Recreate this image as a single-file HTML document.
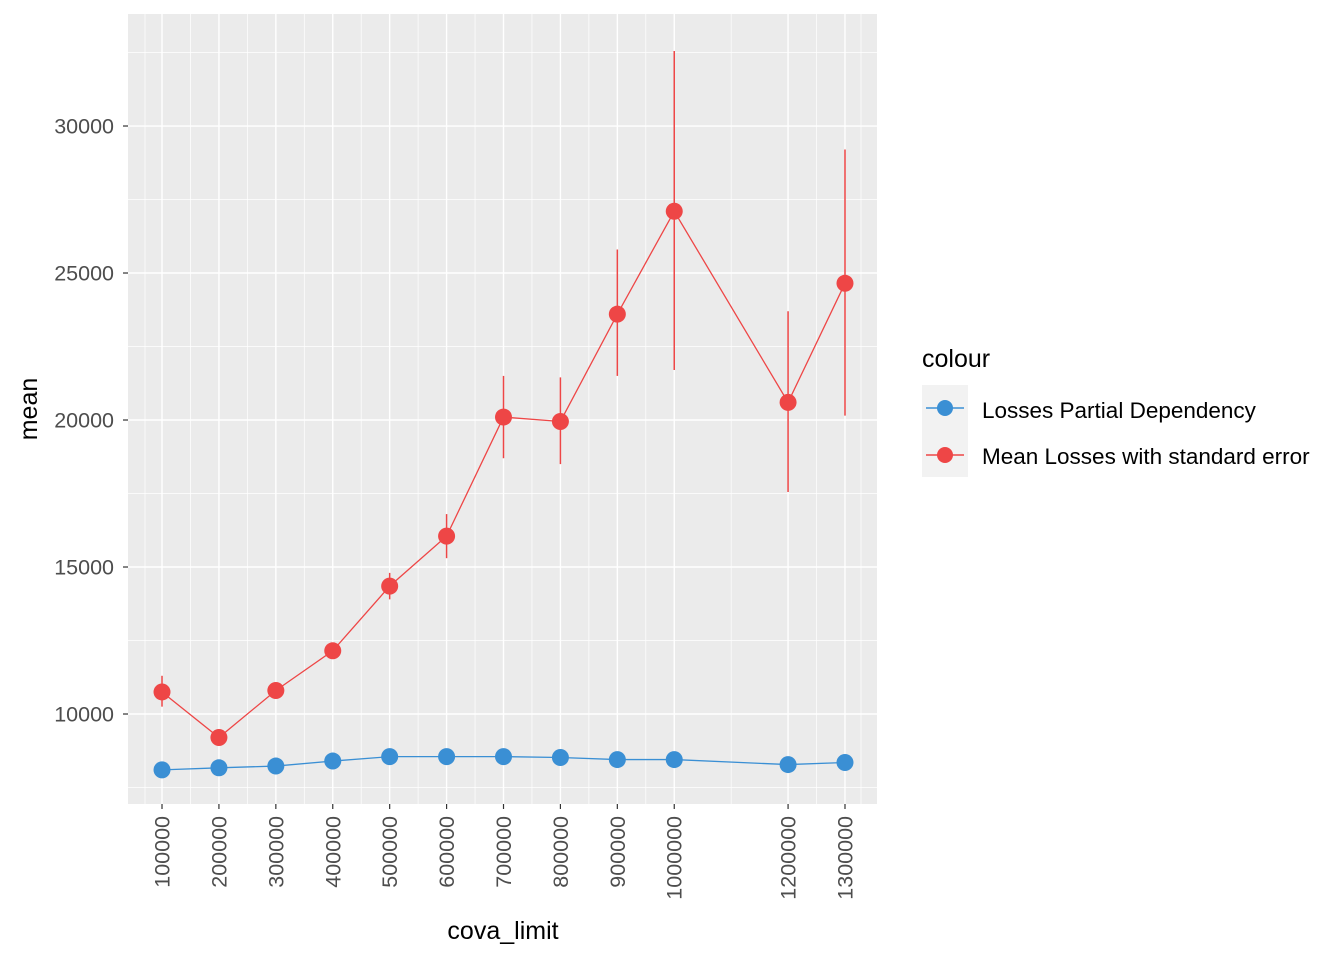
<!DOCTYPE html>
<html><head><meta charset="utf-8"><style>
body{margin:0;background:#fff;font-family:"Liberation Sans",Arial,sans-serif;}
</style></head><body>
<svg id="chart" width="1344" height="960" xmlns="http://www.w3.org/2000/svg">
<rect x="0" y="0" width="1344" height="960" fill="#fff"/>
<rect x="128" y="14" width="749" height="790" fill="#ebebeb"/>
<g id="grid"></g>
<g id="marks"></g>
<g id="axes"></g>
<text x="503" y="939" text-anchor="middle" font-size="25" fill="#000">cova_limit</text>
<text transform="translate(37,409) rotate(-90)" text-anchor="middle" font-size="25" fill="#000">mean</text>
<g>
<text x="922" y="367" font-size="25" fill="#000">colour</text>
<rect x="922" y="385" width="46" height="92" fill="#f2f2f2"/>
<g>
<line x1="926" y1="408" x2="964" y2="408" stroke="#3a8fd4" stroke-width="1.5"/>
<circle cx="945" cy="408" r="8" fill="#3a8fd4"/>
<text x="982" y="418" font-size="22.5" fill="#000">Losses Partial Dependency</text></g>
<g>
<line x1="926" y1="455" x2="964" y2="455" stroke="#ee4646" stroke-width="1.5"/>
<circle cx="945" cy="455" r="8" fill="#ee4646"/>
<text x="982" y="464" font-size="22.5" fill="#000">Mean Losses with standard error</text></g>
</g>
</svg>
<script>
const xCats=[100000,200000,300000,400000,500000,600000,700000,800000,900000,1000000,1200000,1300000];
const redMean=[10750,9200,10800,12150,14350,16050,20100,19950,23600,27100,20600,24650];
const redHi=[11300,9450,11000,12300,14800,16800,21500,21450,25800,32550,23700,29200];
const redLo=[10250,8950,10600,12000,13900,15300,18700,18500,21500,21700,17550,20150];
const blueMean=[8100,8170,8230,8400,8550,8550,8550,8520,8450,8450,8280,8350];
const yTicks=[10000,15000,20000,25000,30000];
const xMin=40245,xMax=1356240,yMin=6939,yMax=33810;
const L=128,R=877,T=14,B=804;
const NS="http://www.w3.org/2000/svg";
function X(v){return L+(v-xMin)/(xMax-xMin)*(R-L);}
function Y(v){return B-(v-yMin)/(yMax-yMin)*(B-T);}
function mk(tag,attrs,parent){const e=document.createElementNS(NS,tag);for(const k in attrs)e.setAttribute(k,attrs[k]);parent.appendChild(e);return e;}
const grid=document.getElementById('grid'),marks=document.getElementById('marks'),axes=document.getElementById('axes');
for(let i=0;i<yTicks.length+1;i++){const v=yTicks[0]-2500+i*5000;if(v>yMin&&v<yMax){const l=mk('line',{x1:L,x2:R,y1:Y(v),y2:Y(v),stroke:'#fff','stroke-width':0.7},grid);}}
for(let i=0;i<xCats.length-1;i++){const v=(xCats[i]+xCats[i+1])/2;const l=mk('line',{x1:X(v),x2:X(v),y1:T,y2:B,stroke:'#fff','stroke-width':0.7},grid);}
[xMin+(xCats[0]-xMin)/2, xCats[xCats.length-1]+(xMax-xCats[xCats.length-1])/2].forEach(v=>{const l=mk('line',{x1:X(v),x2:X(v),y1:T,y2:B,stroke:'#fff','stroke-width':0.7},grid);});
yTicks.forEach(v=>{const y=Y(v);
const g=mk('line',{x1:L,x2:R,y1:y,y2:y,stroke:'#fff','stroke-width':1.4},grid);
mk('line',{x1:L-5,x2:L,y1:y,y2:y,stroke:'#333','stroke-width':1.2},axes);
const t=mk('text',{x:L-14,y:y+7.5,'text-anchor':'end','font-size':21.5,fill:'#4d4d4d'},axes);t.textContent=v;});
xCats.forEach(v=>{const x=X(v);
const g=mk('line',{x1:x,x2:x,y1:T,y2:B,stroke:'#fff','stroke-width':1.4},grid);
mk('line',{x1:x,x2:x,y1:B,y2:B+5,stroke:'#333','stroke-width':1.2},axes);
const t=mk('text',{transform:`translate(${x+7.5},${B+12}) rotate(-90)`,'text-anchor':'end','font-size':21.5,fill:'#4d4d4d'},axes);t.textContent=v;});
function series(vals,col,name){
const p=mk('polyline',{points:vals.map((v,i)=>X(xCats[i])+','+Y(v)).join(' '),fill:'none',stroke:col,'stroke-width':1.3},marks);

vals.forEach((v,i)=>{const c=mk('circle',{cx:X(xCats[i]),cy:Y(v),r:8.5,fill:col},marks);});}
redMean.forEach((v,i)=>{const e=mk('line',{x1:X(xCats[i]),x2:X(xCats[i]),y1:Y(redHi[i]),y2:Y(redLo[i]),stroke:'#ee4646','stroke-width':1.5},marks);});
series(blueMean,'#3a8fd4','partial-dependency');
series(redMean,'#ee4646','mean-losses');
</script>
</body></html>
